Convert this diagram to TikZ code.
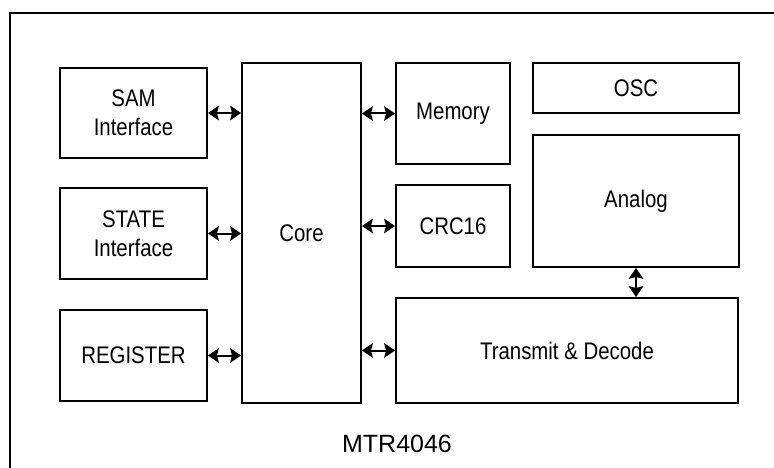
\documentclass[tikz,border=0pt]{standalone}
\usepackage{fontspec}
\setmainfont{Liberation Sans}[FakeStretch=0.85]
\newfontfamily\titlefont{Liberation Sans}
\usetikzlibrary{arrows.meta}
\begin{document}
\begin{tikzpicture}[x=1pt,y=-1pt,
  blk/.style={draw, line width=2pt, rectangle, inner sep=0pt, align=center,
    font=\fontsize{24}{29}\selectfont},
  tip/.tip={Stealth[length=11pt,width=15pt,inset=2pt,line width=0pt]},
  dbl/.style={line width=2pt, tip-tip},
  frame/.style={line width=2.2pt}]
\useasboundingbox (0,0) rectangle (774,468);
\coordinate (fbl) at (10,469);
\coordinate (ftl) at (10,13);
\coordinate (ftr) at (775,13);
\draw[frame] (fbl) -- (ftl) -- (ftr);
\node[blk, minimum width=147pt, minimum height=90pt] (sam) at (133.5,113) {SAM\\Interface};
\node[blk, minimum width=147pt, minimum height=91pt] (state) at (133.5,233.5) {STATE\\Interface};
\node[blk, minimum width=147pt, minimum height=91pt] (reg) at (133.5,355.5) {REGISTER};
\node[blk, minimum width=119pt, minimum height=340pt] (core) at (301.5,233) {Core};
\node[blk, minimum width=114pt, minimum height=101pt] (mem) at (453,113.5) {Memory};
\node[blk, minimum width=114pt, minimum height=82pt] (crc) at (453,226) {CRC16};
\node[blk, minimum width=342pt, minimum height=105pt] (trans) at (567,350.5) {Transmit \& Decode};
\node[blk, minimum width=206pt, minimum height=50pt] (osc) at (636,88) {OSC};
\node[blk, minimum width=206pt, minimum height=132pt] (analog) at (636,201) {Analog};
\node[font=\titlefont\fontsize{25}{30}\selectfont] (title) at (397,444) {MTR4046};
\draw[dbl] (sam.east) -- (sam.east -| core.west);
\draw[dbl] (state.east) -- (state.east -| core.west);
\draw[dbl] (reg.east) -- (reg.east -| core.west);
\draw[dbl] (mem.west -| core.east) -- (mem.west);
\draw[dbl] (crc.west -| core.east) -- (crc.west);
\draw[dbl] (trans.west -| core.east) -- (trans.west);
\draw[dbl] (analog.south) -- (analog.south |- trans.north);
\end{tikzpicture}
\end{document}
